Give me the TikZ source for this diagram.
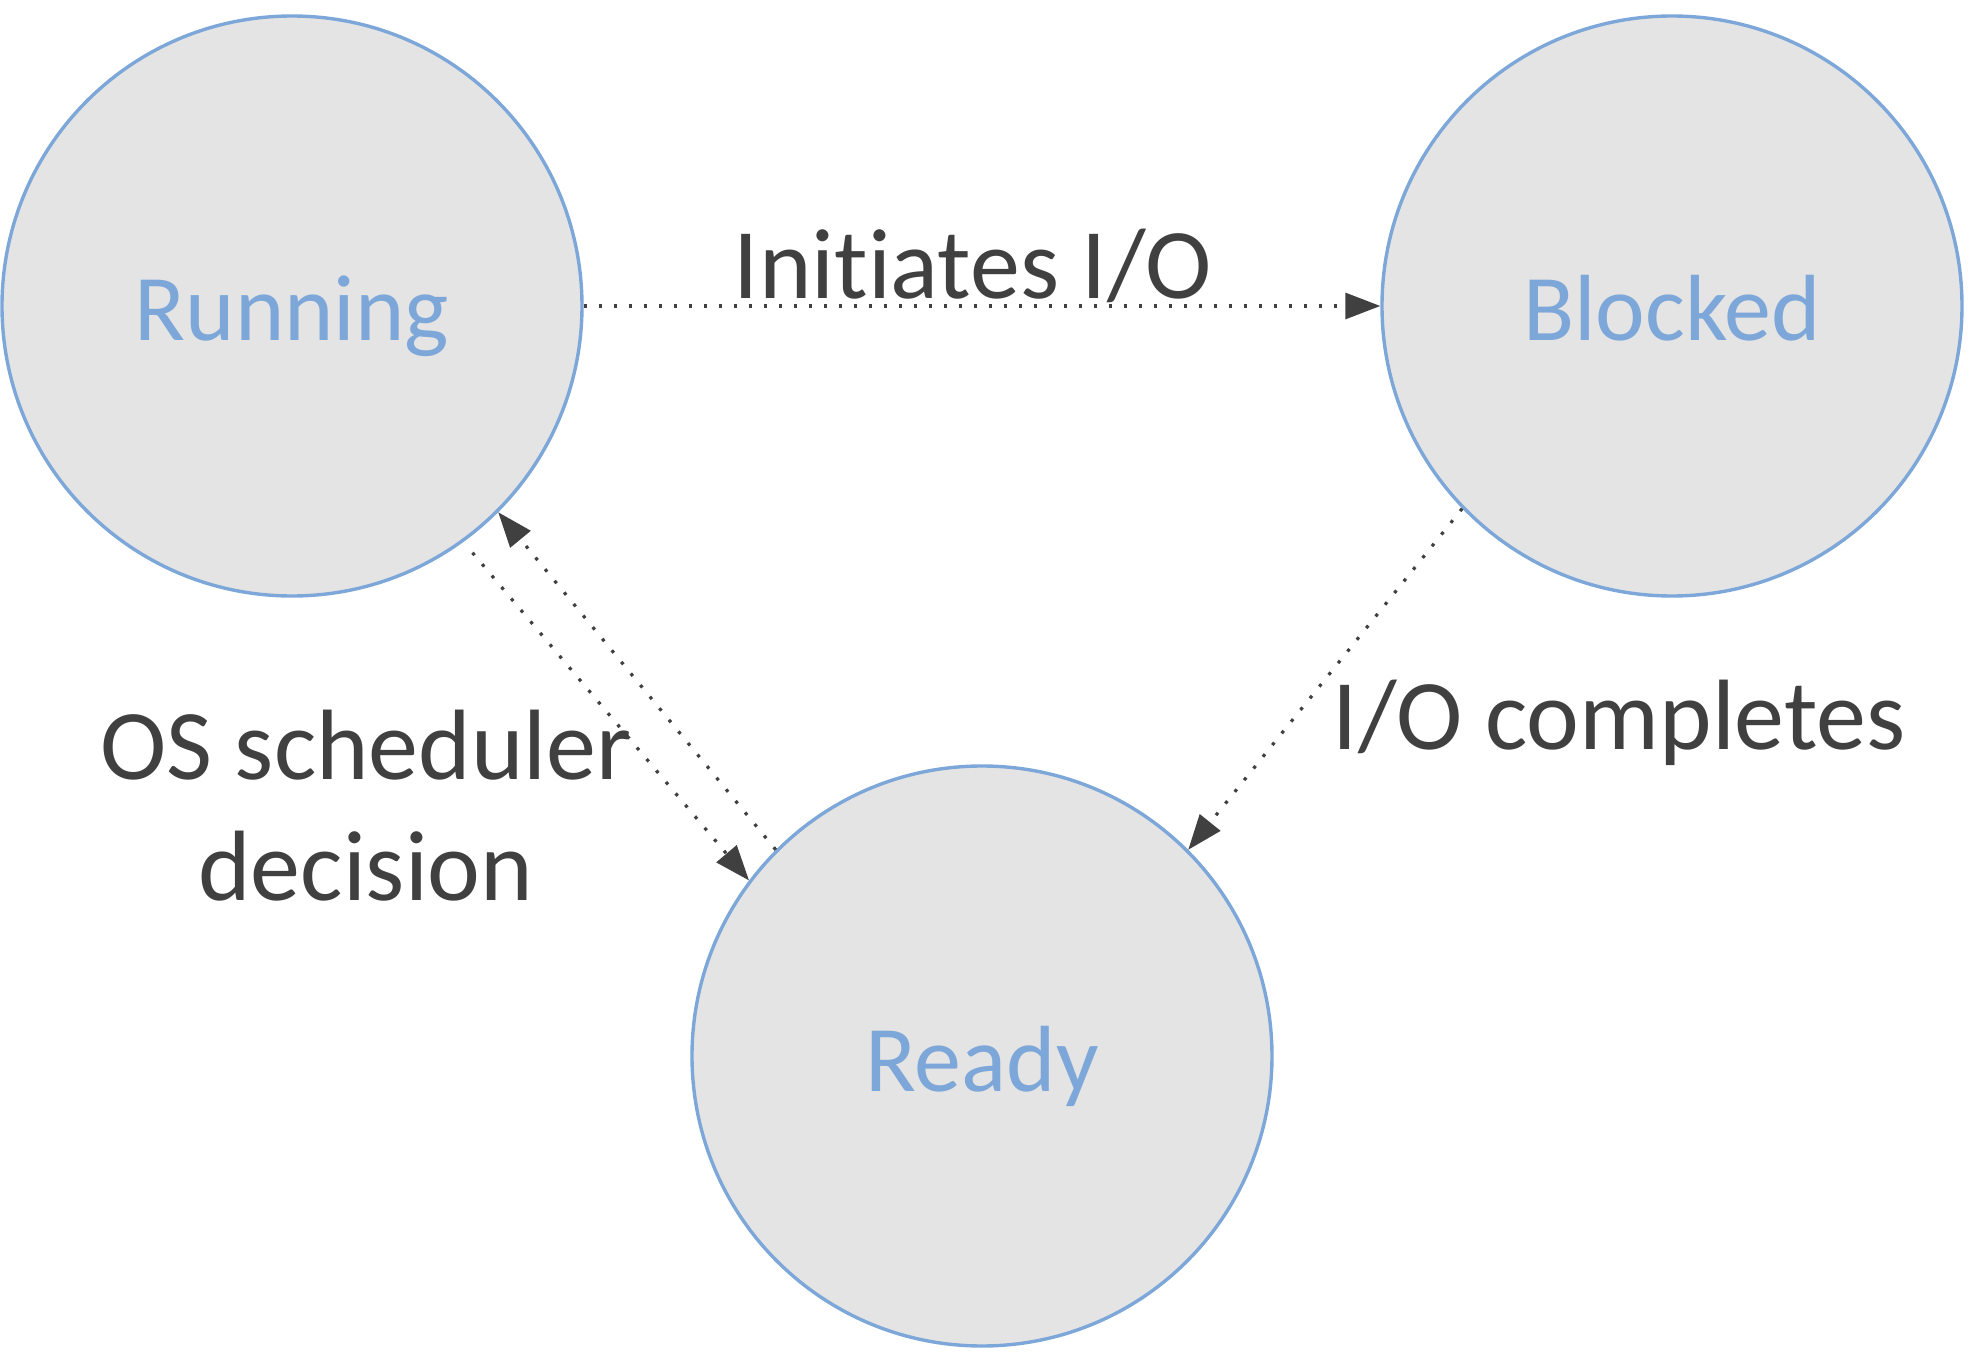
\documentclass[tikz,border=0pt]{standalone}
\usepackage{fontspec}
\setmainfont{Carlito}[Ligatures=NoCommon]
\usepackage{xcolor}
\definecolor{colorState}{HTML}{E4E4E4}
\definecolor{colorBorder}{HTML}{7DA7D9}
\colorlet{colorStateText}{colorBorder}
\definecolor{colorTransition}{HTML}{404040}
\usepackage{tikz}
\usetikzlibrary{arrows.meta, automata, positioning}
\tikzset{every state/.style={draw=colorBorder, fill=colorState, line width=1.7pt, minimum size=290pt, inner sep=0pt, text=colorStateText, font=\fontsize{47}{56}\selectfont, text height=35pt, text depth=0pt}}
\tikzset{trans/.style={colorTransition, line width=1.6pt, dash pattern=on 1.6pt off 5.9pt}}
\tikzset{lbl/.style={text=colorTransition, inner sep=0pt, font=\fontsize{50}{60.5}\selectfont}}

\begin{document}
\begin{tikzpicture}[>={Triangle[length=17.5pt, width=13pt]}, node distance=690pt, on grid]
\useasboundingbox (-146pt,153pt) rectangle (843pt,-527pt);
\node[state] (run) {Running};
\node[state, right of=run] (blk) {Blocked};
\node[state, below right=375pt and 345pt of run] (rdy) {Ready};
\draw [->, trans] (run) -- node [lbl, anchor=base, xshift=-4.5pt, yshift=3.5pt] {Initiates I/O} (blk);
\draw [->, trans] (blk.224) -- node [lbl, anchor=base west, xshift=3pt, yshift=-35pt] {I/O completes} (rdy.45);
\draw [->, trans, shorten <=7pt] (run.306) -- node [lbl, align=center, anchor=base, xshift=-120.2pt, yshift=-94.4pt] {OS scheduler\\decision} (rdy.143);
\draw [->, trans] (rdy.135) -- (run.315);
\end{tikzpicture}
\end{document}
